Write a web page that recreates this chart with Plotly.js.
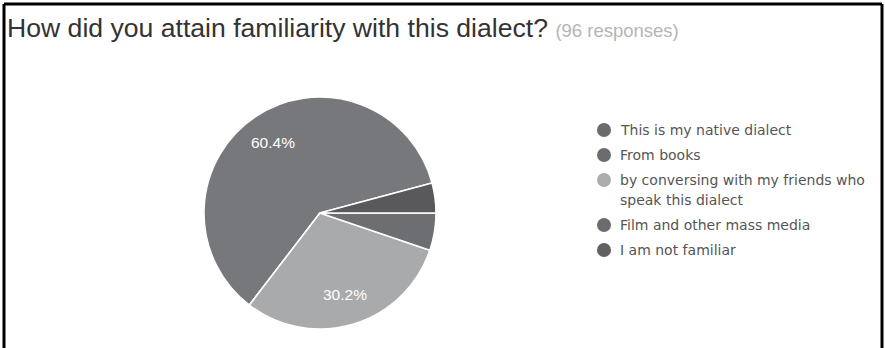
<!DOCTYPE html>
<html><head><meta charset="utf-8">
<script src="https://cdn.plot.ly/plotly-3.0.1.min.js"></script>
<style>html,body{margin:0;padding:0;background:#fff;}#chart{width:885px;height:348px;}</style>
</head><body><div id="chart"></div>
<script>
const labels = ["This is my native dialect", "From books", "by conversing with my friends who<br>speak this dialect", "Film and other mass media", "I am not familiar"];
const counts = [58, 0, 29, 5, 4];
const sliceColors = ["#77787b", "#606164", "#a9aaac", "#6d6e71", "#59595c"];
const legendColors = ["#6b6c6f", "#6b6c6f", "#acadaf", "#6b6c6f", "#626265"];
const titleText = "How did you attain familiarity with this dialect?";
const subText = "(96 responses)";

const W = 885, H = 348;
const cx = 320, cy = 213, r = 116;
const rotation = -142.5;   // clockwise-from-12 degrees (Plotly convention)

const total = counts.reduce((a, b) => a + b, 0);
const pie = {
  type: "pie",
  labels: labels,
  values: counts,
  sort: false,
  direction: "counterclockwise",
  rotation: rotation,
  marker: {colors: sliceColors, line: {color: "#ffffff", width: 1.5}},
  textinfo: "none",
  hoverinfo: "label+percent",
  showlegend: false,
  domain: {x: [(cx - r) / W, (cx + r) / W], y: [(H - cy - r) / H, (H - cy + r) / H]}
};

const shapes = [
  {type: "line", xref: "paper", yref: "paper", x0: 4 / W, x1: 4 / W, y0: 0, y1: 1 - 4 / H, line: {color: "#000", width: 3}},
  {type: "line", xref: "paper", yref: "paper", x0: 4 / W, x1: 882 / W, y0: 1 - 4 / H, y1: 1 - 4 / H, line: {color: "#000", width: 3}},
  {type: "line", xref: "paper", yref: "paper", x0: 882 / W, x1: 882 / W, y0: 0, y1: 1 - 4 / H, line: {color: "#000", width: 3}}
];
const annotations = [];

// percent labels at slice mid-angles (counterclockwise from the first slice's start)
let startMath = 90 - rotation - 360 * counts[0] / total; // math angle where first slice begins (ccw)
let acc = startMath;
counts.forEach((v, i) => {
  const span = 360 * v / total;
  const mid = (acc + span / 2) * Math.PI / 180;
  if (v / total > 0.1) {
    const px = cx + 0.73 * r * Math.cos(mid);
    const py = cy - 0.73 * r * Math.sin(mid);
    annotations.push({xref: "paper", yref: "paper", x: px / W, y: 1 - py / H,
      xanchor: "center", yanchor: "middle", showarrow: false,
      text: (100 * v / total).toFixed(1) + "%",
      font: {size: 15.5, color: "#ffffff", family: "Liberation Sans, Arial, sans-serif"}});
  }
  acc += span;
});

let ly = 130;
labels.forEach((lab, i) => {
  shapes.push({type: "circle", xref: "paper", yref: "paper",
    x0: (604 - 7) / W, x1: (604 + 7) / W, y0: 1 - (ly + 7) / H, y1: 1 - (ly - 7) / H,
    fillcolor: legendColors[i], line: {width: 0}});
  const lines = lab.split("<br>");
  lines.forEach((ln, k) => {
    annotations.push({xref: "paper", yref: "paper", x: 618 / W, y: 1 - (ly + 20 * k) / H,
      xanchor: "left", yanchor: "middle", align: "left", showarrow: false,
      text: ln, font: {size: 14, color: "#555", family: "DejaVu Sans, sans-serif"}});
  });
  ly += 25 + (lines.length - 1) * 20;
});

const layout = {
  width: W, height: H,
  margin: {l: 0, r: 0, t: 0, b: 0},
  paper_bgcolor: "#ffffff",
  title: {
    text: titleText + ' <span style="font-size:18.5px;color:#b5b5b5">' + subText + '</span>',
    x: 7 / W, xanchor: "left", xref: "paper",
    y: 1 - 28 / H, yanchor: "middle", yref: "container",
    font: {size: 26.6, color: "#333", family: "Liberation Sans, Arial, sans-serif"}
  },
  shapes: shapes,
  annotations: annotations
};
Plotly.newPlot("chart", [pie], layout, {displayModeBar: false, staticPlot: true});
</script>
</body></html>
